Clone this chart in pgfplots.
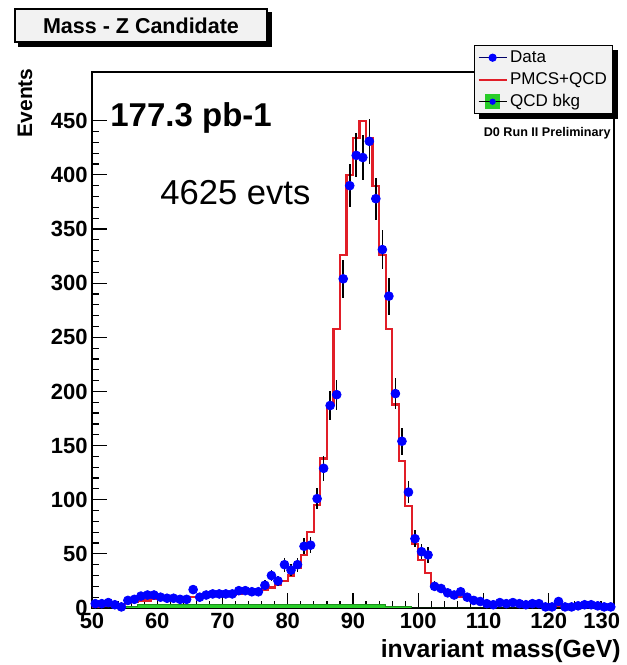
\documentclass[border=0pt]{standalone}
\usepackage{pgfplots}
\usepackage{pgfplotstable}
\pgfplotsset{compat=1.18}
\usepackage{fontspec}
\setmainfont{Liberation Sans}
\definecolor{rootred}{RGB}{225,30,40}
\definecolor{rootgreen}{RGB}{40,205,40}
\definecolor{rootblue}{RGB}{0,0,255}
\definecolor{boxgray}{RGB}{242,242,242}

% PMCS+QCD histogram (lower bin edge, content)
\pgfplotstableread{
x y
50 1
51 2
52 2
53 3
54 4
55 5
56 6
57 7
58 7
59 8
60 8
61 9
62 9
63 9
64 10
65 10
66 10
67 11
68 11
69 12
70 12
71 12
72 13
73 14
74 15
75 16
76 17
77 19
78 21
79 25
80 30
81 37
82 49
83 70
84 95
85 138
86 188
87 258
88 326
89 400
90 434
91 450
92 434
93 390
94 326
95 258
96 188
97 136
98 94
99 59
100 44
101 32
102 21
103 17
104 14
105 12
106 10
107 9
108 7
109 6
110 5
111 5
112 4
113 4
114 4
115 3
116 3
117 3
118 3
119 3
120 2
121 2
122 2
123 2
124 2
125 2
126 2
127 1
128 1
129 1
130 1
}\mctable

% Data (bin centre, events, error)
\pgfplotstableread{
x y e
50.5 4 2.0
51.5 4 2.0
52.5 5 2.2
53.5 3 1.7
54.5 1 1.0
55.5 7 2.6
56.5 8 2.8
57.5 11 3.3
58.5 12 3.5
59.5 12 3.5
60.5 10 3.2
61.5 9 3.0
62.5 9 3.0
63.5 8 2.8
64.5 8 2.8
65.5 17 4.1
66.5 10 3.2
67.5 12 3.5
68.5 13 3.6
69.5 13 3.6
70.5 13 3.6
71.5 13 3.6
72.5 16 4.0
73.5 16 4.0
74.5 15 3.9
75.5 15 3.9
76.5 21 4.6
77.5 30 5.5
78.5 25 5.0
79.5 40 6.3
80.5 35 5.9
81.5 40 6.3
82.5 57 7.5
83.5 58 7.6
84.5 101 10.0
85.5 129 11.4
86.5 187 13.7
87.5 197 14.0
88.5 304 17.4
89.5 390 19.7
90.5 418 20.4
91.5 416 20.4
92.5 431 20.8
93.5 378 19.4
94.5 331 18.2
95.5 288 17.0
96.5 198 14.1
97.5 154 12.4
98.5 107 10.3
99.5 64 8.0
100.5 52 7.2
101.5 49 7.0
102.5 20 4.5
103.5 18 4.2
104.5 14 3.7
105.5 12 3.5
106.5 15 3.9
107.5 10 3.2
108.5 7 2.6
109.5 6 2.4
110.5 4 2.0
111.5 3 1.7
112.5 5 2.2
113.5 4 2.0
114.5 5 2.2
115.5 4 2.0
116.5 3 1.7
117.5 4 2.0
118.5 4 2.0
119.5 1 1.0
120.5 1 1.0
121.5 6 2.4
122.5 1 1.0
123.5 1 1.0
124.5 2 1.4
125.5 3 1.7
126.5 3 1.7
127.5 2 1.4
128.5 1 1.0
129.5 1 1.0
}\datatable

% QCD background
\pgfplotstableread{
x y
50 0
54 1.5
57 3.5
95 1.2
99 0
130 0
}\bkgtable

\begin{document}
\begin{tikzpicture}[x=1pt,y=1pt]
\path[use as bounding box] (0,0) rectangle (313.5,332.5);
\begin{axis}[
  at={(46pt,28.5pt)}, anchor=south west,
  scale only axis, width=261pt, height=268pt,
  xmin=50, xmax=130, ymin=0, ymax=495,
  xtick={50,60,...,130}, ytick={0,50,...,450},
  xticklabels={50,60,70,80,90,100,110,120,{\makebox[6pt][r]{130}}},
  minor x tick num=4, minor y tick num=4,
  tick align=inside, tick pos=left,
  major tick length=7.5pt, minor tick length=3.5pt,
  every tick/.append style={black, line width=0.6pt},
  axis line style={line width=0.75pt},
  ticklabel style={font=\fontsize{11}{13}\selectfont\bfseries},
  /pgf/number format/assume math mode=true,
  yticklabel style={inner xsep=2pt},
  xticklabel style={inner ysep=2.5pt},
  legend cell align=left,
  legend style={name=leg, at={(0.998,1.05)}, anchor=north east,
    fill=boxgray, draw=black, line width=0.5pt,
    font=\fontsize{8.5}{10}\selectfont,
    inner xsep=1.5pt, inner ysep=0.5pt, row sep=0pt,
    nodes={inner sep=1.25pt, text height=6.5pt, text depth=2pt}},
]
\addplot[const plot, fill=rootgreen, draw=rootgreen!70!black, line width=0.4pt, forget plot] table {\bkgtable} \closedcycle;
\addplot[const plot, draw=rootred, line width=1.1pt, forget plot] table {\mctable};
\addplot[forget plot, only marks, mark=*, mark size=2.2pt, color=rootblue,
  mark options={fill=rootblue, draw=rootblue},
  error bars/.cd, y dir=both, y explicit, error mark=none,
  error bar style={black, line width=0.8pt}]
  table[x=x, y=y, y error=e] {\datatable};
\addlegendimage{legend image code/.code={
  \draw[black!60!blue, line width=0.5pt] (0pt,0pt) -- (14pt,0pt);
  \fill[rootblue] (7pt,0pt) circle (1.8pt);}}
\addlegendentry{Data}
\addlegendimage{legend image code/.code={
  \draw[draw=rootred, line width=1pt] (0pt,0pt) -- (14pt,0pt);}}
\addlegendentry{PMCS+QCD}
\addlegendimage{legend image code/.code={
  \fill[rootgreen] (3.5pt,-3.5pt) rectangle (10.5pt,3.5pt);
  \draw[black, line width=0.5pt] (0pt,0pt) -- (14pt,0pt);
  \fill[rootblue] (7pt,0pt) circle (1.3pt);}}
\addlegendentry{QCD bkg}
\end{axis}
% legend and title shadow strips
\fill[black] ([xshift=2.5pt]leg.south west) rectangle ([xshift=2.5pt,yshift=-2.5pt]leg.south east);
\fill[black] ([yshift=-2.5pt]leg.north east) rectangle ([xshift=2.5pt,yshift=-2.5pt]leg.south east);
\node[draw=black, fill=boxgray, line width=0.6pt, minimum width=126pt, minimum height=16.5pt,
  font=\fontsize{10.75}{12}\selectfont\bfseries] (ttl) at (70.5,319.75) {Mass - Z Candidate};
\fill[black] ([xshift=2pt]ttl.south west) rectangle ([xshift=2pt,yshift=-2pt]ttl.south east);
\fill[black] ([yshift=-2pt]ttl.north east) rectangle ([xshift=2pt,yshift=-2pt]ttl.south east);
\node[anchor=west, font=\fontsize{16.5}{18}\selectfont\bfseries, inner sep=0pt] at (55,273.5) {177.3 pb-1};
\node[anchor=west, font=\fontsize{17.3}{19}\selectfont, inner sep=0pt] at (80,236) {4625 evts};
\node[anchor=east, font=\fontsize{6.3}{8}\selectfont\bfseries, inner sep=0pt] at (305.5,266) {D0 Run II Preliminary};
\node[rotate=90, anchor=east, font=\fontsize{10.5}{12}\selectfont\bfseries, inner sep=0pt] at (12.5,298.5) {Events};
\node[anchor=base east, font=\fontsize{12.4}{14}\selectfont\bfseries, inner sep=0pt] at (310.5,4) {invariant mass(GeV)};
\end{tikzpicture}
\end{document}
